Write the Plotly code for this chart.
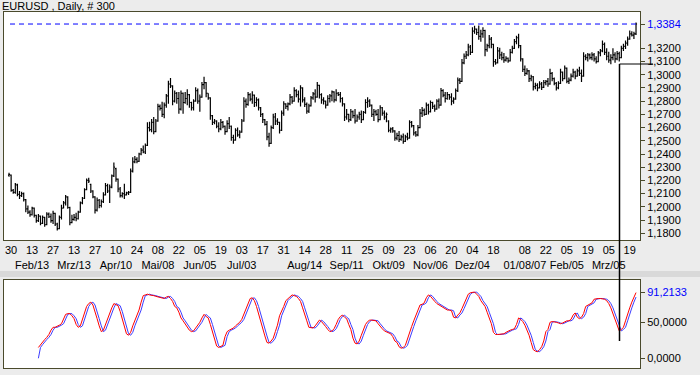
import plotly.graph_objects as go

TITLE = "EURUSD , Daily, # 300"

# price values in 1/10000 units (pips)
opens = [
    12240,12240,12125,12110,12165,12095,12085,12100,12055,11985,
    11960,11940,11990,11935,11895,11930,11875,11920,11865,11945,
    11925,11895,11950,11870,11835,11920,11990,12030,12075,11995,
    11880,11905,11920,11910,11960,12030,12065,12130,12200,12170,
    12120,12075,11975,12050,12010,12040,12090,12160,12120,12150,
    12235,12290,12210,12135,12085,12100,12090,12105,12110,12270,
    12340,12360,12345,12400,12430,12415,12465,12600,12585,12640,
    12570,12650,12760,12745,12700,12770,12840,12930,12915,12800,
    12860,12820,12740,12860,12790,12820,12850,12790,12750,12800,
    12880,12800,12830,12925,12940,12860,12825,12690,12640,12650,
    12610,12590,12640,12610,12570,12630,12610,12525,12505,12580,
    12545,12565,12650,12800,12775,12850,12815,12845,12790,12810,
    12750,12700,12660,12625,12530,12480,12600,12680,12650,12640,
    12580,12710,12780,12760,12780,12830,12800,12880,12850,12815,
    12900,12810,12775,12725,12765,12825,12855,12830,12920,12850,
    12810,12800,12770,12820,12840,12870,12810,12860,12850,12820,
    12780,12680,12700,12660,12720,12690,12650,12680,12700,12660,
    12715,12790,12800,12770,12700,12720,12700,12660,12750,12710,
    12680,12650,12580,12590,12575,12520,12540,12510,12530,12495,
    12530,12520,12640,12615,12560,12545,12600,12710,12730,12700,
    12770,12720,12790,12760,12740,12800,12770,12880,12845,12820,
    12850,12830,12800,12815,12880,12960,12950,13090,13140,13150,
    13210,13170,13330,13345,13320,13290,13310,13335,13190,13220,
    13270,13230,13100,13090,13180,13150,13130,13110,13125,13105,
    13170,13200,13250,13280,13220,13120,13040,13010,13030,12970,
    12985,12910,12920,12900,12930,12905,12940,12950,12930,13010,
    12970,12935,12900,12935,13020,12970,13050,12950,12960,12990,
    13020,12990,13030,13010,12990,13140,13130,13150,13130,13150,
    13120,13100,13165,13180,13230,13170,13140,13110,13130,13150,
    13120,13160,13130,13200,13215,13240,13270,13310,13300,13310,
]
highs = [
    12258,12245,12135,12180,12175,12120,12115,12108,12060,12010,
    11975,12000,11995,11940,11945,11935,11935,11925,11960,11958,
    11950,11970,11955,11880,11935,12015,12045,12090,12080,12000,
    11940,11945,11955,11970,12040,12075,12140,12215,12220,12175,
    12125,12080,12070,12060,12055,12110,12180,12175,12170,12245,
    12335,12295,12215,12150,12110,12175,12115,12120,12290,12375,
    12385,12375,12410,12445,12465,12480,12640,12645,12665,12680,
    12665,12780,12775,12795,12790,12855,12955,12975,12920,12880,
    12870,12870,12880,12865,12870,12890,12855,12795,12815,12905,
    12895,12850,12945,12985,12945,12860,12830,12695,12665,12655,
    12640,12665,12650,12615,12655,12680,12615,12545,12595,12600,
    12580,12665,12830,12820,12870,12860,12875,12850,12830,12820,
    12755,12710,12665,12650,12560,12615,12705,12710,12670,12645,
    12730,12800,12785,12790,12855,12840,12905,12890,12880,12920,
    12905,12830,12790,12780,12840,12870,12890,12945,12925,12860,
    12830,12805,12845,12855,12880,12875,12890,12870,12870,12830,
    12785,12740,12705,12740,12730,12740,12700,12720,12730,12725,
    12815,12830,12815,12775,12740,12735,12740,12770,12755,12730,
    12715,12655,12600,12605,12580,12560,12575,12545,12555,12545,
    12560,12655,12650,12620,12575,12620,12740,12755,12745,12790,
    12780,12805,12795,12775,12815,12820,12900,12890,12870,12870,
    12855,12860,12830,12895,12980,12975,13120,13160,13180,13235,
    13225,13360,13370,13350,13372,13340,13360,13340,13235,13300,
    13285,13235,13120,13210,13205,13175,13165,13140,13130,13195,
    13220,13270,13295,13310,13225,13125,13070,13050,13035,13000,
    12990,12940,12935,12950,12945,12960,12960,12975,13045,13020,
    12980,12945,12950,13045,13025,13070,13055,12980,13010,13045,
    13030,13045,13060,13040,13170,13155,13165,13160,13170,13165,
    13140,13180,13195,13260,13245,13200,13175,13155,13200,13170,
    13180,13175,13220,13235,13260,13290,13335,13330,13325,13395,
]
lows = [
    12228,12115,12100,12100,12080,12060,12075,12040,11960,11945,
    11925,11935,11920,11880,11885,11860,11870,11850,11860,11915,
    11880,11870,11855,11820,11830,11905,11990,12010,11985,11860,
    11875,11895,11890,11905,11955,12020,12060,12125,12180,12105,
    12065,11950,11965,11990,11995,12030,12085,12105,12030,12140,
    12225,12190,12110,12070,12070,12060,12085,12090,12105,12260,
    12330,12330,12340,12390,12405,12400,12460,12570,12565,12550,
    12565,12645,12730,12680,12670,12750,12780,12900,12770,12790,
    12780,12705,12730,12705,12780,12770,12750,12730,12730,12795,
    12780,12720,12825,12890,12830,12810,12660,12620,12625,12595,
    12565,12580,12595,12545,12565,12590,12500,12478,12500,12530,
    12520,12560,12645,12750,12765,12800,12780,12755,12760,12730,
    12680,12635,12615,12505,12455,12475,12590,12620,12620,12555,
    12575,12690,12740,12730,12770,12780,12795,12830,12790,12760,
    12790,12755,12705,12710,12760,12810,12790,12825,12820,12780,
    12775,12745,12765,12790,12800,12790,12800,12840,12790,12760,
    12650,12660,12640,12650,12670,12630,12645,12660,12635,12655,
    12705,12750,12755,12680,12650,12690,12640,12655,12690,12660,
    12640,12565,12560,12560,12500,12505,12490,12500,12478,12490,
    12505,12515,12600,12540,12530,12535,12595,12680,12690,12695,
    12700,12715,12740,12720,12735,12745,12765,12830,12790,12810,
    12810,12770,12780,12810,12870,12930,12945,13080,13120,13140,
    13150,13165,13310,13300,13265,13250,13280,13140,13175,13200,
    13200,13060,13075,13085,13120,13110,13090,13100,13090,13100,
    13160,13195,13230,13200,13100,13020,12990,13000,12945,12950,
    12880,12890,12875,12895,12885,12900,12920,12910,12925,12950,
    12920,12880,12890,12930,12950,12965,12935,12930,12950,12980,
    12965,12985,12990,12945,12985,13110,13100,13115,13110,13100,
    13085,13095,13140,13170,13150,13110,13090,13080,13110,13090,
    13110,13100,13125,13180,13195,13220,13265,13290,13270,13300,
]
closes = [
    12245,12125,12110,12170,12095,12085,12100,12055,11985,11960,
    11940,11990,11935,11895,11930,11875,11920,11865,11945,11925,
    11895,11950,11870,11835,11920,11990,12030,12075,11995,11880,
    11905,11920,11910,11960,12030,12065,12130,12200,12195,12120,
    12075,11975,12050,12010,12040,12090,12160,12120,12150,12235,
    12300,12210,12135,12085,12100,12090,12105,12110,12270,12340,
    12360,12345,12400,12430,12415,12465,12600,12585,12640,12570,
    12650,12760,12745,12700,12770,12840,12930,12915,12800,12860,
    12820,12740,12860,12790,12820,12850,12790,12750,12800,12880,
    12800,12830,12925,12940,12860,12825,12690,12640,12650,12610,
    12590,12640,12610,12570,12630,12610,12525,12505,12580,12545,
    12565,12650,12800,12775,12850,12815,12845,12790,12810,12750,
    12700,12660,12625,12530,12480,12600,12680,12650,12640,12580,
    12710,12780,12760,12780,12830,12800,12880,12850,12815,12900,
    12810,12775,12725,12765,12825,12855,12830,12920,12850,12810,
    12800,12770,12820,12840,12870,12810,12860,12850,12820,12780,
    12680,12700,12660,12720,12690,12650,12680,12700,12660,12715,
    12790,12800,12770,12700,12720,12700,12660,12750,12710,12680,
    12700,12580,12590,12575,12520,12540,12510,12530,12495,12530,
    12520,12640,12615,12560,12545,12600,12710,12730,12700,12770,
    12720,12790,12760,12740,12800,12770,12880,12845,12820,12850,
    12830,12800,12815,12880,12960,12950,13090,13140,13150,13210,
    13170,13330,13345,13320,13290,13310,13335,13190,13220,13270,
    13230,13100,13090,13180,13150,13130,13110,13125,13105,13170,
    13200,13250,13280,13220,13120,13040,13010,13030,12970,12985,
    12910,12920,12900,12930,12905,12940,12950,12930,13010,12970,
    12935,12900,12935,13020,12970,13050,12950,12960,12990,13020,
    12990,13030,13010,12990,13140,13130,13150,13130,13150,13120,
    13100,13165,13180,13230,13170,13140,13110,13130,13150,13120,
    13160,13130,13200,13215,13240,13270,13310,13300,13310,13384,
]

# oscillator (starts at bar 14)
OSC_START = 14
osc_red = [
    15,19,23,26,29,33,39,43,43,44,
    46,48,56,61,62,62,59,55,47,43,
    45,55,65,72,76,78,74,66,55,45,
    37,39,47,56,64,70,76,75,73,65,
    55,44,34,32,36,45,52,59,67,78,
    87,88,89,88,88,87,86,85,84,83,
    83,85,86,83,79,72,70,64,56,52,
    47,43,39,37,38,42,46,50,56,61,
    58,56,47,36,26,17,15,16,18,30,
    37,39,40,42,45,47,50,54,62,69,
    77,83,84,80,72,61,51,40,31,22,
    21,24,28,37,46,59,67,72,80,83,
    86,88,87,86,83,79,70,59,52,43,
    42,42,45,50,53,51,48,44,40,37,
    38,41,47,54,58,60,57,55,47,40,
    28,21,20,24,32,39,47,51,53,53,
    52,52,48,44,41,38,37,35,34,30,
    24,22,16,14,15,18,27,38,44,52,
    59,66,74,75,77,84,88,86,82,79,
    76,74,72,70,68,67,67,66,57,56,
    60,63,69,76,83,89,91,92,92,89,
    86,80,76,72,64,56,48,36,33,33,
    33,34,34,36,38,39,40,41,47,56,
    54,51,46,40,32,22,12,10,9,12,
    16,24,37,40,50,51,51,50,49,48,
    49,51,52,52,54,60,63,57,55,57,
    62,72,74,76,77,82,83,83,83,83,
    82,80,76,70,62,52,45,38,40,43,
    52,62,70,78,85,91.2133,
]
osc_blue = [
    0,15,19,23,26,29,33,39,43,43,
    44,46,48,56,61,62,62,59,55,47,
    43,45,55,65,72,76,78,74,66,55,
    45,37,39,47,56,64,70,76,75,73,
    65,55,44,34,32,36,45,52,59,67,
    78,87,88,89,88,88,87,86,85,84,
    83,83,85,86,83,79,72,70,64,56,
    52,47,43,39,37,38,42,46,50,56,
    61,58,56,47,36,26,17,15,16,18,
    30,37,39,40,42,45,47,50,54,62,
    69,77,83,84,80,72,61,51,40,31,
    22,21,24,28,37,46,59,67,72,80,
    83,86,88,87,86,83,79,70,59,52,
    43,42,42,45,50,53,51,48,44,40,
    37,38,41,47,54,58,60,57,55,47,
    40,28,21,20,24,32,39,47,51,53,
    53,52,52,48,44,41,38,37,35,34,
    30,24,22,16,14,15,18,27,38,44,
    52,59,66,74,75,77,84,88,86,82,
    79,76,74,72,70,68,67,67,66,57,
    56,60,63,69,76,83,89,91,92,92,
    89,86,80,76,72,64,56,48,36,33,
    33,33,34,34,36,38,39,40,41,47,
    56,54,51,46,40,32,22,12,10,9,
    12,16,24,37,40,50,51,51,50,49,
    48,49,51,52,52,54,60,63,57,55,
    57,62,72,74,76,77,82,83,83,83,
    83,82,80,76,70,62,52,45,38,40,
    43,52,62,70,78,85,
]

# x-axis labels (bar index where each label sits)
date_tick_bars = [1, 11, 21, 31, 41, 51, 61, 71, 81, 91, 101, 111, 121, 131, 141,
                  151, 161, 171, 181, 191, 201, 211, 221, 231, 246, 256, 266, 276, 286, 296]
day_labels = ["30", "13", "27", "13", "27", "10", "24", "08", "22", "05", "19", "03", "17", "31", "14",
              "28", "11", "25", "09", "23", "06", "20", "04", "18", "08", "22", "05", "19", "05", "19"]
month_labels = ["", "Feb/13", "", "Mrz/13", "", "Apr/10", "", "Mai/08", "", "Jun/05", "", "Jul/03", "", "", "Aug/14",
                "", "Sep/11", "", "Okt/09", "", "Nov/06", "", "Dez/04", "", "01/08/07", "", "Feb/05", "", "Mrz/05", ""]

price_ticks = [1.18, 1.19, 1.20, 1.21, 1.22, 1.23, 1.24, 1.25, 1.26, 1.27, 1.28, 1.29, 1.30, 1.31, 1.32]
last_price = 1.3384
osc_ticks = [0.0, 50.0]
osc_last = 91.2133

bar_index = list(range(len(closes)))
osc_x = bar_index[OSC_START:]

BORDER = "#4a4a2c"
BG = "#ececec"
W, H = 700, 375


def px_x(p):
    return p / W


def px_y(p):
    return 1 - p / H


def fmt(v):
    return f"{v:.4f}".replace(".", ",")


fig = go.Figure()
fig.add_trace(go.Ohlc(
    x=bar_index,
    open=[v / 10000 for v in opens], high=[v / 10000 for v in highs],
    low=[v / 10000 for v in lows], close=[v / 10000 for v in closes],
    increasing=dict(line=dict(color="black", width=1.2)),
    decreasing=dict(line=dict(color="black", width=1.2)),
    tickwidth=0.5, hoverinfo="skip", xaxis="x", yaxis="y",
))
fig.add_trace(go.Scatter(x=osc_x, y=osc_blue, mode="lines",
                         line=dict(color="#3c3cff", width=1), xaxis="x2", yaxis="y2", hoverinfo="skip"))
fig.add_trace(go.Scatter(x=osc_x, y=osc_red, mode="lines",
                         line=dict(color="#ff0000", width=1), xaxis="x2", yaxis="y2", hoverinfo="skip"))

xrange = [-2.4, 300.9]
xdom = [px_x(4), px_x(640)]

y_tickvals = price_ticks + [last_price]
y_ticktext = [fmt(v) for v in price_ticks] + [f'<span style="color:#0000ff">{fmt(last_price)}</span>']
y2_tickvals = osc_ticks + [osc_last]
y2_ticktext = [fmt(v) for v in osc_ticks] + [f'<span style="color:#0000ff">{fmt(osc_last)}</span>']

tick_text = [d + ("<br>" + m if m else "") for d, m in zip(day_labels, month_labels)]

fig.update_layout(
    width=W, height=H,
    margin=dict(l=0, r=0, t=0, b=0, autoexpand=False),
    paper_bgcolor=BG, plot_bgcolor="white",
    showlegend=False,
    font=dict(family="Liberation Sans, Arial, sans-serif", size=11, color="#000000"),
    xaxis=dict(domain=xdom, range=xrange, anchor="y", tickmode="array",
               tickvals=date_tick_bars, ticktext=tick_text, ticks="", tickangle=0,
               automargin=False,
               showgrid=False, zeroline=False, showline=True, linecolor=BORDER,
               linewidth=1, mirror=True, rangeslider=dict(visible=False)),
    yaxis=dict(domain=[px_y(240), px_y(12)], range=[1.1749, 1.3475], anchor="x",
               side="right", tickmode="array", tickvals=y_tickvals, ticktext=y_ticktext,
               automargin=False,
               ticks="outside", ticklen=4, tickcolor=BORDER, showgrid=False, zeroline=False,
               showline=True, linecolor=BORDER, linewidth=1, mirror=True),
    xaxis2=dict(domain=xdom, range=xrange, anchor="y2", showticklabels=False, ticks="",
                automargin=False,
                showgrid=False, zeroline=False, showline=True, linecolor=BORDER,
                linewidth=1, mirror=True),
    yaxis2=dict(domain=[px_y(368), px_y(280)], range=[-13.5, 108.7], anchor="x2",
                side="right", tickmode="array", tickvals=y2_tickvals, ticktext=y2_ticktext,
                automargin=False,
                ticks="outside", ticklen=4, tickcolor=BORDER, showgrid=False, zeroline=False,
                showline=True, linecolor=BORDER, linewidth=1, mirror=True),
)

shapes = [
    # separator strip between panels
    dict(type="rect", xref="paper", yref="paper", x0=0, x1=1, y0=px_y(277), y1=px_y(271),
         fillcolor="#d9d9d9", line=dict(width=0), layer="below"),
    # dashed last-price line
    dict(type="line", xref="paper", yref="y", x0=px_x(10), x1=px_x(640), y0=last_price, y1=last_price,
         line=dict(color="#0000ff", width=1, dash="5px,4px")),
    # cursor lines
    dict(type="line", xref="paper", yref="paper", x0=px_x(619.5), x1=px_x(653), y0=px_y(64), y1=px_y(64),
         line=dict(color="black", width=1)),
    dict(type="line", xref="paper", yref="paper", x0=px_x(619.5), x1=px_x(619.5), y0=px_y(64), y1=px_y(341),
         line=dict(color="black", width=1.5)),
]
fig.update_layout(shapes=shapes)

fig.add_annotation(text=TITLE, xref="paper", yref="paper", x=0, y=1, xanchor="left", yanchor="top",
                   showarrow=False, font=dict(size=11, color="black"), yshift=2, xshift=0)

fig.write_html(
    "out.html",
    config={"displayModeBar": False, "staticPlot": True},
    post_script=f"document.body.style.margin='0';document.body.style.background='{BG}';",
)
